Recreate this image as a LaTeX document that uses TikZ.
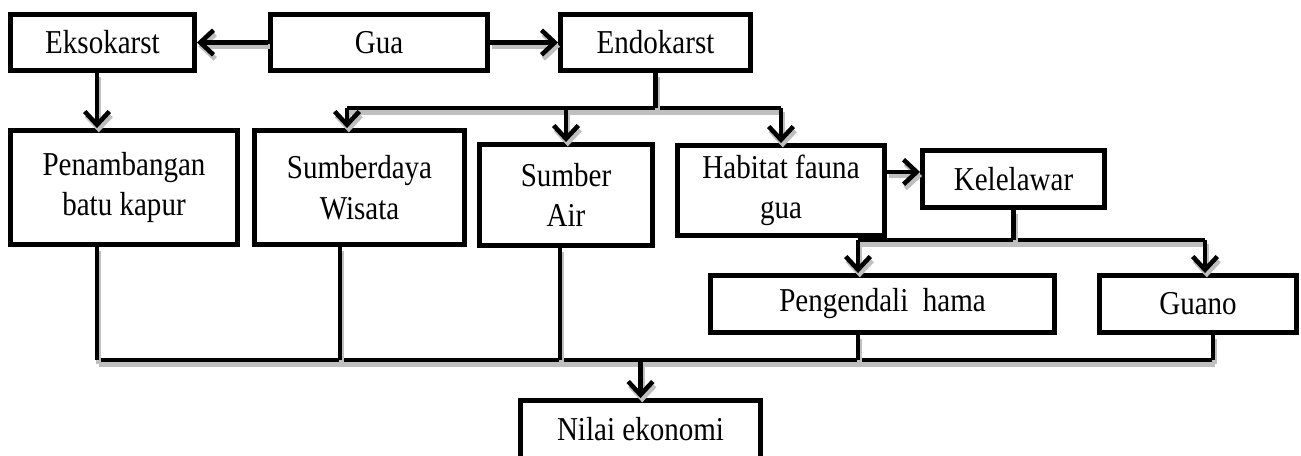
\documentclass[tikz,border=0pt]{standalone}
\usepackage{fontspec}
\setmainfont{Liberation Serif}
\newfontfamily\boxfont[FakeStretch=0.87]{Liberation Serif}
\usetikzlibrary{arrows.meta, positioning}

\begin{document}
\begin{tikzpicture}[x=0.02cm, y=-0.02cm, line width=2.8pt,
  box/.style={draw, rectangle, align=center, inner sep=0pt, font=\boxfont\fontsize{19}{23}\selectfont},
  sz/.style 2 args={minimum width=#1*0.02cm, minimum height=#2*0.02cm},
  conn/.style={line width=2.6pt, preaction={draw=gray!50, transform canvas={xshift=1pt, yshift=-2.3pt}}},
  arr/.style={conn, -{Straight Barb[length=7.5pt, width=14pt]}}]
\useasboundingbox (0,0) rectangle (1301,456);
% boxes
\node[box, sz={184}{56}] (eks) at (102.5,42.5) {Eksokarst};
\node[box, sz={217}{56}] (gua) at (379,42.5) {Gua};
\node[box, sz={190}{56}] (endo) at (655.5,42.5) {Endokarst};
\node[box, sz={227}{114}] (pen) at (124,187.5) {Penambangan\\batu kapur};
\node[box, sz={210}{114}] (sdw) at (359.5,187.5) {Sumberdaya\\Wisata};
\node[box, sz={173}{101}] (air) at (566,195) {Sumber\\Air};
\node[box, sz={207}{90}] (hab) at (781,190.5) {Habitat fauna\\gua};
\node[box, sz={182}{57}] (kel) at (1013.5,179) {Kelelawar};
\node[box, sz={344}{57}] (hama) at (882.5,304) {Pengendali\ \ hama};
\node[box, sz={197}{57}] (guano) at (1198,304) {Guano};
\node[box, sz={240}{58}] (nilai) at (640.5,429.5) {Nilai ekonomi};

% branch points
\coordinate (eL) at (347,108);
\coordinate (eR) at (781,108);
\coordinate (kL) at (858,240);
\coordinate (kR) at (1205,240);
\coordinate (bL) at (97,360);
\coordinate (b2) at (340,360);
\coordinate (b3) at (560,360);
\coordinate (b4) at (858,360);
\coordinate (bR) at (1213,360);

% top row
\draw[arr] (gua.west) -- (eks.east);
\draw[arr] (gua.east) -- (endo.west);
\draw[arr] (bL |- eks.south) -- (bL |- pen.north);
\draw[conn] (eL) -- (eR);
\draw[conn] (endo.south) -- (endo.south |- eL);
\draw[arr] (eL) -- (eL |- sdw.north);
\draw[arr] (air.north |- eL) -- (air.north);
\draw[arr] (eR) -- (hab.north);

% bats
\draw[arr] ([yshift=4pt]hab.east |- kel.west) -- ([yshift=4pt]kel.west);
\draw[conn] (kL) -- (kR);
\draw[conn] (kel.south) -- (kel.south |- kL);
\draw[arr] (kL) -- (kL |- hama.north);
\draw[arr] (kR) -- (kR |- guano.north);

% collector
\draw[conn] (bL) -- (bR);
\draw[conn] (bL |- pen.south) -- (bL);
\draw[conn] (b2 |- sdw.south) -- (b2);
\draw[conn] (b3 |- air.south) -- (b3);
\draw[conn] (b4 |- hama.south) -- (b4);
\draw[conn] (bR |- guano.south) -- (bR);
\draw[arr] (nilai.north |- bL) -- (nilai.north);
\end{tikzpicture}
\end{document}
